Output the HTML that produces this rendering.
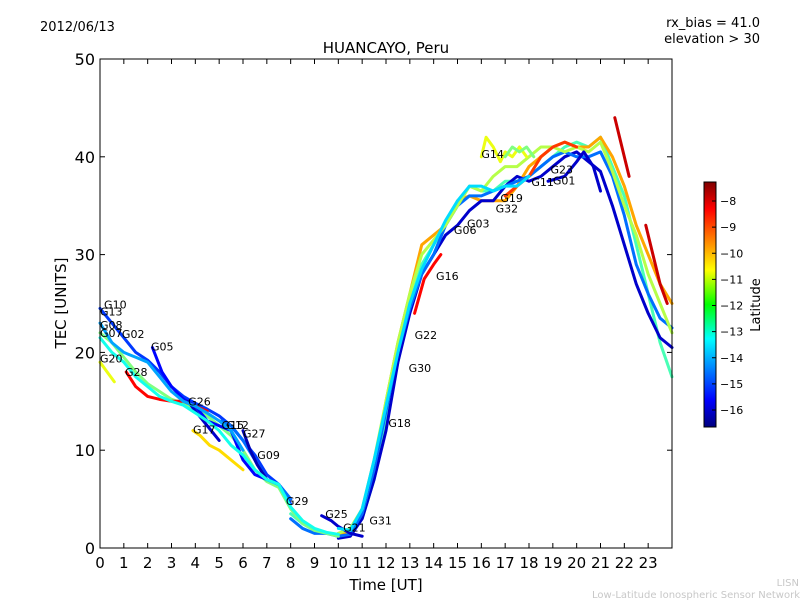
<!DOCTYPE html>
<html><head><meta charset="utf-8"><style>
body{margin:0;background:#fff}
svg text{font-family:"DejaVu Sans","Liberation Sans",sans-serif}
</style></head><body>
<svg id="chart" width="800" height="600" xmlns="http://www.w3.org/2000/svg">
<rect width="800" height="600" fill="#fff"/>
<defs><linearGradient id="jet" x1="0" y1="1" x2="0" y2="0">
<stop offset="0" stop-color="#00007f"/><stop offset="0.11" stop-color="#0000ff"/><stop offset="0.36" stop-color="#00ffff"/>
<stop offset="0.5" stop-color="#00ff00" /><stop offset="0.64" stop-color="#ffff00"/><stop offset="0.89" stop-color="#ff0000"/><stop offset="1" stop-color="#7f0000"/>
</linearGradient></defs>
<text x="40" y="31" font-size="13">2012/06/13</text>
<text x="760" y="27" font-size="13" text-anchor="end">rx_bias = 41.0</text>
<text x="760" y="43" font-size="13" text-anchor="end">elevation &gt; 30</text>
<text x="386" y="53" font-size="15" text-anchor="middle">HUANCAYO, Peru</text>
<text x="386" y="590" font-size="15" text-anchor="middle">Time [UT]</text>
<text x="66" y="303" font-size="15" text-anchor="middle" transform="rotate(-90 66 303)">TEC [UNITS]</text>
<text x="799" y="586" font-size="10" fill="#c8c8c8" text-anchor="end">LISN</text>
<text x="800" y="598" font-size="10" fill="#c8c8c8" text-anchor="end">Low-Latitude Ionospheric Sensor Network</text>
<g id="plot"></g>
<g id="axes"></g>
<g id="cbar">
<rect x="704" y="182" width="12" height="245" fill="url(#jet)" stroke="#000" stroke-width="1"/>
<text x="760" y="305" font-size="13" text-anchor="middle" transform="rotate(-90 760 305)">Latitude</text>
</g>
</svg>
<script>
const xTicks=[0,1,2,3,4,5,6,7,8,9,10,11,12,13,14,15,16,17,18,19,20,21,22,23];
const yTicks=[0,10,20,30,40,50];
const cbTicks=[-8,-9,-10,-11,-12,-13,-14,-15,-16];
const trackNames=["A","B","C","D","E","G07","G02","G05","G28","G20","G17","G26","G15","G27","G25","G14","G23","G01","R1","R2","G16","G08","G13","F","H"];
const trackLat=[-12.5,-10,-16,-14.5,-11.5,-12,-15,-15.5,-8.5,-11,-10.5,-16,-14.5,-16.2,-16,-11,-9,-16,-8,-8,-8.5,-13,-14,-13.5,-12];
const trackTimes=[
[8,8.5,9,9.5,10,10.5,11,11.5,12,12.5,13,13.5,14,14.5,15,15.5,16,16.5,17,17.5,18,18.5,19,19.5,20,20.5,21,21.5,22,22.5,23,23.5,24],
[10,10.5,11,11.5,12,12.5,13,13.5,14,14.5,15,15.5,16,16.5,17,17.5,18,18.5,19,19.5,20,20.5,21,21.5,22,22.5,23,23.5,24],
[10,10.5,11,11.5,12,12.5,13,13.5,14,14.5,15,15.5,16,16.5,17,17.5,18,18.5,19,19.5,20,20.5,21,21.5,22,22.5,23,23.5,24],
[8,8.5,9,9.5,10,10.5,11,11.5,12,12.5,13,13.5,14,14.5,15,15.5,16,16.5,17,17.5,18,18.5,19,19.5,20,20.5,21,21.5,22,22.5,23,23.5,24],
[10,10.5,11,11.5,12,12.5,13,13.5,14,14.5,15,15.5,16,16.5,17,17.5,18,18.5,19,19.5,20,20.5,21,21.5,22,22.5,23,23.5,24],
[0,0.5,1,1.5,2,2.5,3,3.5,4,4.5,5,5.5,6,6.5,7,7.5,8,8.5,9,9.5,10],
[0,0.5,1,1.5,2,2.5,3,3.5,4,4.5,5,5.5,6,6.5,7,7.5,8],
[2.2,2.6,3,3.5,4,4.5,5,5.5,6,6.5,7,7.5,8],
[1.1,1.5,2,2.5,3,3.5,4,4.5],
[0,0.3,0.6],
[3.9,4.2,4.6,5,5.5,6],
[3.7,4,4.5,5],
[5.1,5.5,6,6.5,7,7.5,8],
[6,6.3,6.6,7],
[9.3,9.7,10,10.5,11],
[16,16.2,16.5,16.8,17,17.3,17.6,17.9],
[17,17.5,18,18.5,19,19.5,20],
[18.8,19.5,20,20.3,20.7,21],
[21.6,21.8,22,22.2],
[22.9,23.2,23.5,23.8],
[13.2,13.6,14,14.3],
[0,0.5,1,1.5,2,2.5,3,3.5,4,4.5,5,5.5,6,6.5,7,7.5,8,8.5,9,9.5,10],
[0,0.5,1,1.5,2,2.5,3,3.5,4,4.5,5,5.5,6],
[10,10.5,11,11.5,12,12.5,13,13.5,14,14.5,15,15.5,16,16.5,17,17.5,18],
[17,17.3,17.6,17.9,18.2]];
const trackValues=[
[3.5,2.5,1.8,1.5,1.2,1.3,3,7,13,19,25,29,31,33,35,37,36.5,36.5,37.5,37.5,38,39,40,41,41.5,41,42,39,36,31,26,21,17.5],
[1.5,1.5,3.5,8,15,21,26,31,32,33,35.5,36,35.5,35.5,35.5,37,39,40,41,41.5,41,41,42,40,37,33,30,27,25],
[1,1.2,3,7,12,19,24,28,30,32,33,34.5,35.5,35.5,37,38,37.5,38,39,40,40.5,39.5,38.5,35,31,27,24,21.5,20.5],
[3,2,1.5,1.5,1.2,1.4,3.5,8,14,20,24.5,28,30,33,35,36,36,36.5,37,37.5,38,39,40,40.5,40,40,40.5,38,34,29,26,23.5,22.5],
[1.5,2,4,9,15,21,26,30,31.5,33,35,37,36.5,38,39,39,40,41,41,40.5,41,40.5,41.5,38.5,35,32,28,25,22],
[22,21,19.5,18,16.8,16,15.2,14.8,14.2,13.5,12.5,11.5,10,8,6.8,6.2,4,2.5,1.8,1.5,1.2],
[24.5,23,21.5,20,19.2,18,16.5,15.5,14.8,14.2,13.5,12.5,11,9.5,7.5,6.5,4.5],
[20.5,18,16.5,15.2,14.5,13,12.5,12,9,7.5,7,6.5,5],
[18,16.5,15.5,15.2,15,15,14.5,14],
[19,18,17],
[12,11.5,10.5,10,9,8],
[15,14,12.5,11],
[13,12.5,11,9,7,6.5,5],
[12,10,8.5,7],
[3.3,2.8,2.2,1.5,1.2],
[40,42,41,39.5,40.5,40,41,40],
[36,37,38,40,41,41.5,41],
[37.5,38,39.5,40.5,39,36.5],
[44,42,40,38],
[33,30,27,25],
[24,27.5,29,30],
[21.5,20,19,17.5,16.5,15.5,15,14.6,13.8,13,12,10.5,9.5,8,7,6.5,4.2,2.8,2,1.6,1.4],
[23,21,20,19.5,19,17.5,16,15,14.5,13.8,13,12,10],
[2,1.8,4,9,14.5,20,25,28.5,31,33.5,35.5,37,37,36.5,37,37,38],
[40,41,40.5,41,40]];
const labelNames=["G10","G13","G08","G07","G02","G05","G20","G28","G26","G15","G12","G17","G27","G09","G29","G25","G21","G31","G18","G30","G22","G16","G06","G03","G32","G19","G14","G11","G01","G23"];
const labelTimes=[0.17,0,0,0,0.92,2.14,0,1.05,3.7,5.1,5.3,3.9,6.0,6.6,7.8,9.45,10.2,11.3,12.1,12.95,13.2,14.1,14.85,15.4,16.6,16.8,16.0,18.1,19.0,18.9];
const labelValues=[24.9,24.2,22.8,22.0,21.9,20.6,19.4,18.0,15.0,12.6,12.6,12.1,11.7,9.5,4.8,3.5,2.1,2.8,12.8,18.4,21.8,27.8,32.5,33.2,34.7,35.8,40.3,37.4,37.6,38.7];

const X=t=>100+t*(572/24), Y=v=>548-v*(489/50), CY=l=>201+(-8-l)*26.125;
function jet(l){const f=Math.max(0,Math.min(1,(l+16.7)/9.4));
 const c=x=>Math.round(255*Math.max(0,Math.min(1,1.5-Math.abs(4*f-x))));
 return `rgb(${c(3)},${c(2)},${c(1)})`;}
const NS="http://www.w3.org/2000/svg";
function mk(tag,attrs,parent){const e=document.createElementNS(NS,tag);for(const k in attrs)e.setAttribute(k,attrs[k]);parent.appendChild(e);return e;}
const plot=document.getElementById('plot'),axes=document.getElementById('axes'),cbar=document.getElementById('cbar');
trackTimes.forEach((ts,i)=>{
 const p=mk('polyline',{points:ts.map((t,j)=>X(t)+','+Y(trackValues[i][j])).join(' '),fill:'none',stroke:jet(trackLat[i]),'stroke-width':3,'stroke-linejoin':'round','stroke-linecap':'round'},plot);
 
 
});
labelNames.forEach((n,i)=>{
 const t=mk('text',{x:X(labelTimes[i]),y:Y(labelValues[i])+4,'font-size':11},plot);t.textContent=n;
 
 
});
const fr=mk('rect',{x:100,y:59,width:572,height:489,fill:'none',stroke:'#000','stroke-width':1},axes);


xTicks.forEach(t=>{
 mk('line',{x1:X(t),x2:X(t),y1:548,y2:543,stroke:'#000'},axes);
 mk('line',{x1:X(t),x2:X(t),y1:59,y2:64,stroke:'#000'},axes);
 const tx=mk('text',{x:X(t),y:568,'font-size':15,'text-anchor':'middle'},axes);tx.textContent=t;
 
 
});
yTicks.forEach(v=>{
 mk('line',{x1:100,x2:105,y1:Y(v),y2:Y(v),stroke:'#000'},axes);
 mk('line',{x1:672,x2:667,y1:Y(v),y2:Y(v),stroke:'#000'},axes);
 const tx=mk('text',{x:95,y:Y(v)+6,'font-size':16,'text-anchor':'end'},axes);tx.textContent=v;
 
 
});
cbTicks.forEach(l=>{
 mk('line',{x1:712,x2:716,y1:CY(l),y2:CY(l),stroke:'#000'},cbar);
 const tx=mk('text',{x:720,y:CY(l)+4,'font-size':11},cbar);tx.textContent='\u2212'+(-l);
 
 
});
</script>
</body></html>
